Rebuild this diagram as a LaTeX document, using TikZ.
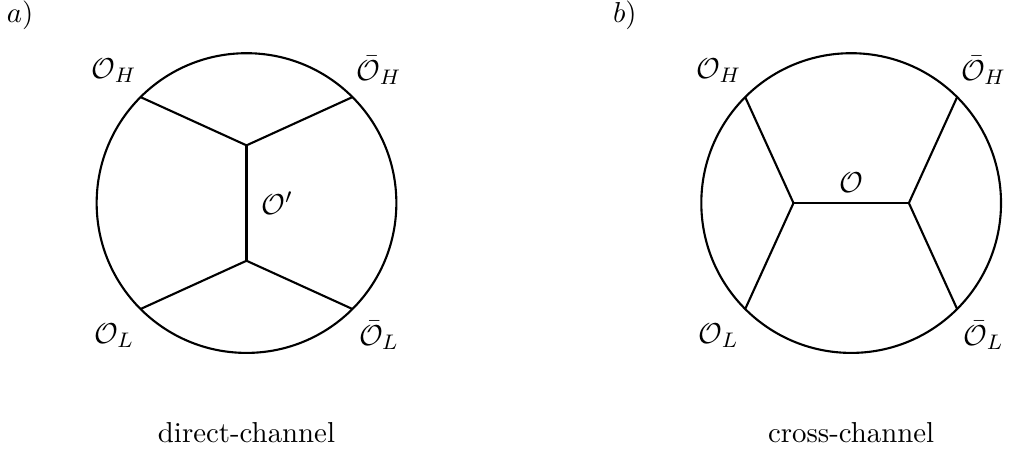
\documentclass[tikz,border=0pt,11pt]{standalone}
\usepackage{amsmath,amssymb}
\usepackage{tikz}

\begin{document}
\begin{tikzpicture}[line width=0.8pt]
\useasboundingbox (-3.29,-3.29) rectangle (10.31,2.71);
% direct channel
\draw (0,0) circle (2);
\coordinate (aH) at (135:2);
\coordinate (aHb) at (45:2);
\coordinate (aL) at (225:2);
\coordinate (aLb) at (315:2);
\coordinate (aup) at (0,0.77);
\coordinate (adown) at (0,-0.77);
\draw (aH) -- (aup) -- (aHb);
\draw (aL) -- (adown) -- (aLb);
\draw (aup) -- (adown);
\node (aOH) at (135:2.5) {$\mathcal{O}_H$};
\node (aOHb) at (45:2.5) {$\bar{\mathcal{O}}_H$};
\node (aOL) at (225:2.5) {$\mathcal{O}_L$};
\node (aOLb) at (315:2.5) {$\bar{\mathcal{O}}_L$};
\node (aOp) at (0.41,0) {$\mathcal{O}'$};
\node (atag) at (-3.02,2.5) {$a)$};
\node (aname) at (0,-3.06) {direct-channel};
% cross channel
\begin{scope}[xshift=8.07cm]
\draw (0,0) circle (2);
\coordinate (bH) at (135:2);
\coordinate (bHb) at (45:2);
\coordinate (bL) at (225:2);
\coordinate (bLb) at (315:2);
\coordinate (bleft) at (-0.77,0);
\coordinate (bright) at (0.77,0);
\draw (bH) -- (bleft) -- (bL);
\draw (bHb) -- (bright) -- (bLb);
\draw (bleft) -- (bright);
\node (bOH) at (135:2.5) {$\mathcal{O}_H$};
\node (bOHb) at (45:2.5) {$\bar{\mathcal{O}}_H$};
\node (bOL) at (225:2.5) {$\mathcal{O}_L$};
\node (bOLb) at (315:2.5) {$\bar{\mathcal{O}}_L$};
\node[above] (bO) at (0,0) {$\mathcal{O}$};
\node (btag) at (-3.02,2.5) {$b)$};
\node (bname) at (0,-3.06) {cross-channel};
\end{scope}
\end{tikzpicture}
\end{document}
